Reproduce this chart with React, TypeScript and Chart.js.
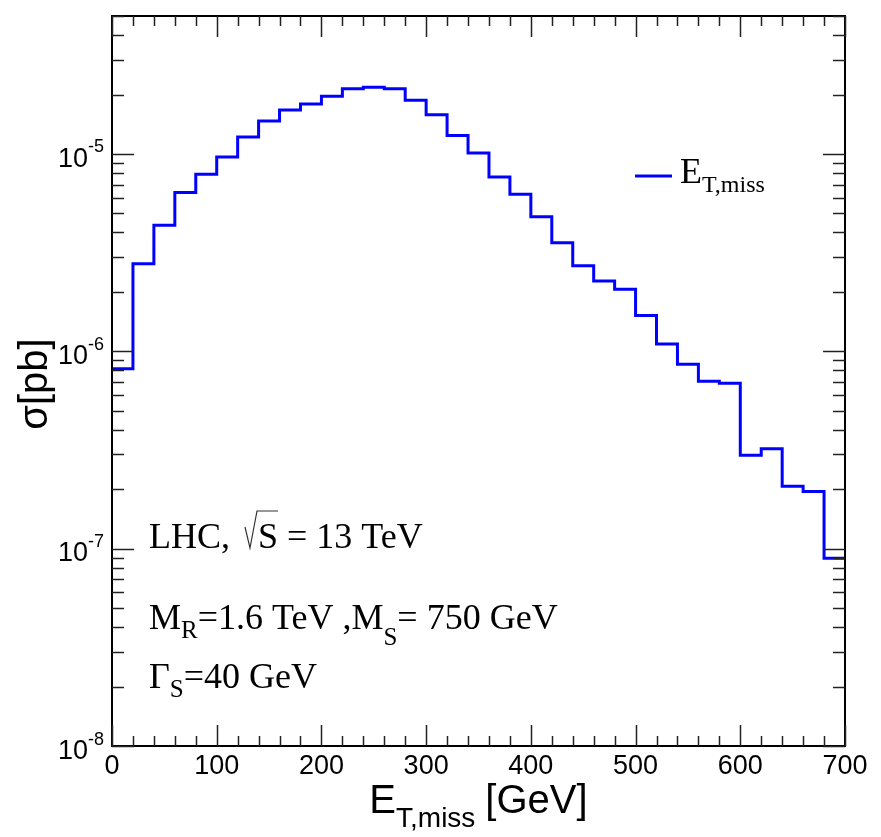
import React, { useEffect, useRef } from 'react';
import { Chart, registerables } from 'chart.js';

Chart.register(...registerables);

// bin edges in GeV (35 bins of 20 GeV)
const binEdges = [
    0, 20, 40, 60, 80, 100, 120, 140, 160, 180, 200, 220, 240, 260, 280, 300, 320, 340,
    360, 380, 400, 420, 440, 460, 480, 500, 520, 540, 560, 580, 600, 620, 640, 660, 680, 700,
];

// sigma per bin [pb]
const sigmaPb = [
    8.15e-7, 2.78e-6, 4.35e-6, 6.37e-6, 7.88e-6, 9.66e-6, 1.22e-5, 1.47e-5, 1.67e-5, 1.79e-5,
    1.96e-5, 2.14e-5, 2.18e-5, 2.14e-5, 1.87e-5, 1.58e-5, 1.24e-5, 1.01e-5, 7.64e-6, 6.24e-6,
    4.81e-6, 3.55e-6, 2.71e-6, 2.27e-6, 2.06e-6, 1.52e-6, 1.09e-6, 8.59e-7, 7.05e-7, 6.89e-7,
    2.97e-7, 3.21e-7, 2.07e-7, 1.95e-7, 8.93e-8,
];

const xTickLabels = [0, 100, 200, 300, 400, 500, 600, 700];
const yDecadeExponents = [-8, -7, -6, -5];

const SANS = '"Liberation Sans", Arial, Helvetica, sans-serif';
const SERIF = '"Liberation Serif", "Times New Roman", Times, serif';

const framePlugin = {
    id: 'rootFrame',
    afterDraw(chart: Chart) {
        const { ctx, chartArea: a } = chart;
        const xs = chart.scales.x;
        const ys = chart.scales.y;
        ctx.save();

        // frame
        ctx.strokeStyle = '#000';
        ctx.lineWidth = 2;
        ctx.strokeRect(a.left, a.top, a.right - a.left, a.bottom - a.top);

        // x ticks (bottom + top, inward)
        ctx.lineWidth = 1.5;
        ctx.strokeStyle = '#222';
        ctx.beginPath();
        for (let v = xs.min; v <= xs.max; v += 20) {
            const px = Math.round(xs.getPixelForValue(v)) + 0.5;
            const len = v % 100 === 0 ? 21 : 10;
            ctx.moveTo(px, a.bottom);
            ctx.lineTo(px, a.bottom - len);
            ctx.moveTo(px, a.top);
            ctx.lineTo(px, a.top + len);
        }
        // y ticks (left + right, inward)
        for (let d = -8; d <= -4; d++) {
            for (let m = 1; m <= 9; m++) {
                const v = m * Math.pow(10, d);
                if (v < ys.min * 0.999 || v > ys.max * 1.001) continue;
                const py = Math.round(ys.getPixelForValue(v)) + 0.5;
                const len = m === 1 ? 22 : 12;
                ctx.moveTo(a.left, py);
                ctx.lineTo(a.left + len, py);
                ctx.moveTo(a.right, py);
                ctx.lineTo(a.right - len, py);
            }
        }
        ctx.stroke();

        ctx.fillStyle = '#000';
        // x tick labels
        ctx.font = `27px ${SANS}`;
        ctx.textAlign = 'center';
        ctx.textBaseline = 'alphabetic';
        xTickLabels.forEach((v) => {
            ctx.fillText(String(v), xs.getPixelForValue(v), a.bottom + 28);
        });

        // y tick labels 10^n
        yDecadeExponents.forEach((e) => {
            const py = ys.getPixelForValue(Math.pow(10, e));
            ctx.font = `27px ${SANS}`;
            const wBase = ctx.measureText('10').width;
            ctx.font = `18px ${SANS}`;
            const sup = String(e);
            const wSup = ctx.measureText(sup).width;
            const x0 = a.left - 8 - wBase - wSup;
            ctx.textAlign = 'left';
            ctx.font = `27px ${SANS}`;
            ctx.fillText('10', x0, py + 12.7);
            ctx.font = `18px ${SANS}`;
            ctx.fillText(sup, x0 + wBase, py - 1.5);
        });

        // x axis title
        const cx = (a.left + a.right) / 2;
        ctx.font = `40px ${SANS}`;
        const wE = ctx.measureText('E').width;
        const wRest = ctx.measureText('[GeV]').width;
        ctx.font = `28px ${SANS}`;
        const wSub = ctx.measureText('T,miss').width;
        const gap = 10;
        let tx = cx - (wE + wSub + gap + wRest) / 2;
        ctx.textAlign = 'left';
        ctx.font = `40px ${SANS}`;
        ctx.fillText('E', tx, 813);
        tx += wE;
        ctx.font = `28px ${SANS}`;
        ctx.fillText('T,miss', tx, 827);
        tx += wSub + gap;
        ctx.font = `40px ${SANS}`;
        ctx.fillText('[GeV]', tx, 813);

        // y axis title
        ctx.save();
        ctx.translate(47, (a.top + a.bottom) / 2 + 3);
        ctx.rotate(-Math.PI / 2);
        ctx.textAlign = 'center';
        ctx.font = `40px ${SANS}`;
        ctx.fillText('σ[pb]', 0, 0);
        ctx.restore();

        // legend
        ctx.strokeStyle = '#0000ff';
        ctx.lineWidth = 3;
        ctx.beginPath();
        ctx.moveTo(635, 176);
        ctx.lineTo(672, 176);
        ctx.stroke();
        ctx.fillStyle = '#000';
        ctx.textAlign = 'left';
        ctx.font = `36px ${SERIF}`;
        ctx.fillText('E', 680, 183);
        const wLe = ctx.measureText('E').width;
        ctx.font = `24px ${SERIF}`;
        ctx.fillText('T,miss', 680 + wLe, 192);

        // annotations
        const main = `36px ${SERIF}`;
        const sub = `25px ${SERIF}`;
        let x = 149;
        ctx.font = main;
        ctx.fillText('LHC,', x, 548);
        // radical sign
        ctx.strokeStyle = '#333';
        ctx.lineWidth = 1.2;
        ctx.beginPath();
        ctx.moveTo(245, 527);
        ctx.lineTo(250, 548);
        ctx.lineTo(257, 511);
        ctx.lineTo(278, 511);
        ctx.stroke();
        ctx.fillText('S', 258, 548);
        x = 258 + ctx.measureText('S').width;
        ctx.fillText(' = 13 TeV', x, 548);

        x = 149;
        ctx.font = main;
        ctx.fillText('M', x, 629);
        x += ctx.measureText('M').width;
        ctx.font = sub;
        ctx.fillText('R', x, 638);
        x += ctx.measureText('R').width;
        ctx.font = main;
        ctx.fillText('=1.6 TeV ,M', x, 629);
        x += ctx.measureText('=1.6 TeV ,M').width;
        ctx.font = sub;
        ctx.fillText('S', x, 645);
        x += ctx.measureText('S').width;
        ctx.font = main;
        ctx.fillText('= 750 GeV', x, 629);

        x = 149;
        ctx.font = main;
        ctx.fillText('Γ', x, 688);
        x += ctx.measureText('Γ').width;
        ctx.font = sub;
        ctx.fillText('S', x, 697);
        x += ctx.measureText('S').width;
        ctx.font = main;
        ctx.fillText('=40 GeV', x, 688);

        ctx.restore();
    },
};

const App = () => {
    const canvasRef = useRef<HTMLCanvasElement | null>(null);

    useEffect(() => {
        if (!canvasRef.current) return;
        document.body.style.margin = '0';

        const points = binEdges.map((x, i) => ({
            x,
            y: sigmaPb[Math.min(i, sigmaPb.length - 1)],
        }));

        const chart = new Chart(canvasRef.current, {
            type: 'line',
            data: {
                datasets: [
                    {
                        label: 'E_T,miss',
                        data: points,
                        borderColor: '#0000ff',
                        borderWidth: 3,
                        pointRadius: 0,
                        stepped: 'before',
                        fill: false,
                    },
                ],
            },
            options: {
                responsive: false,
                animation: false,
                layout: { padding: { left: 112, top: 16, right: 36, bottom: 91 } },
                plugins: {
                    legend: { display: false },
                    tooltip: { enabled: false },
                },
                scales: {
                    x: { type: 'linear', min: 0, max: 700, display: false },
                    y: { type: 'logarithmic', min: 1e-8, max: 5e-5, display: false },
                },
            },
            plugins: [framePlugin],
        });

        return () => {
            chart.destroy();
        };
    }, []);

    return (
        <div style={{ width: 881, height: 837, background: '#fff' }}>
            <canvas ref={canvasRef} width={881} height={837} style={{ display: 'block' }} />
        </div>
    );
};

export default App;
